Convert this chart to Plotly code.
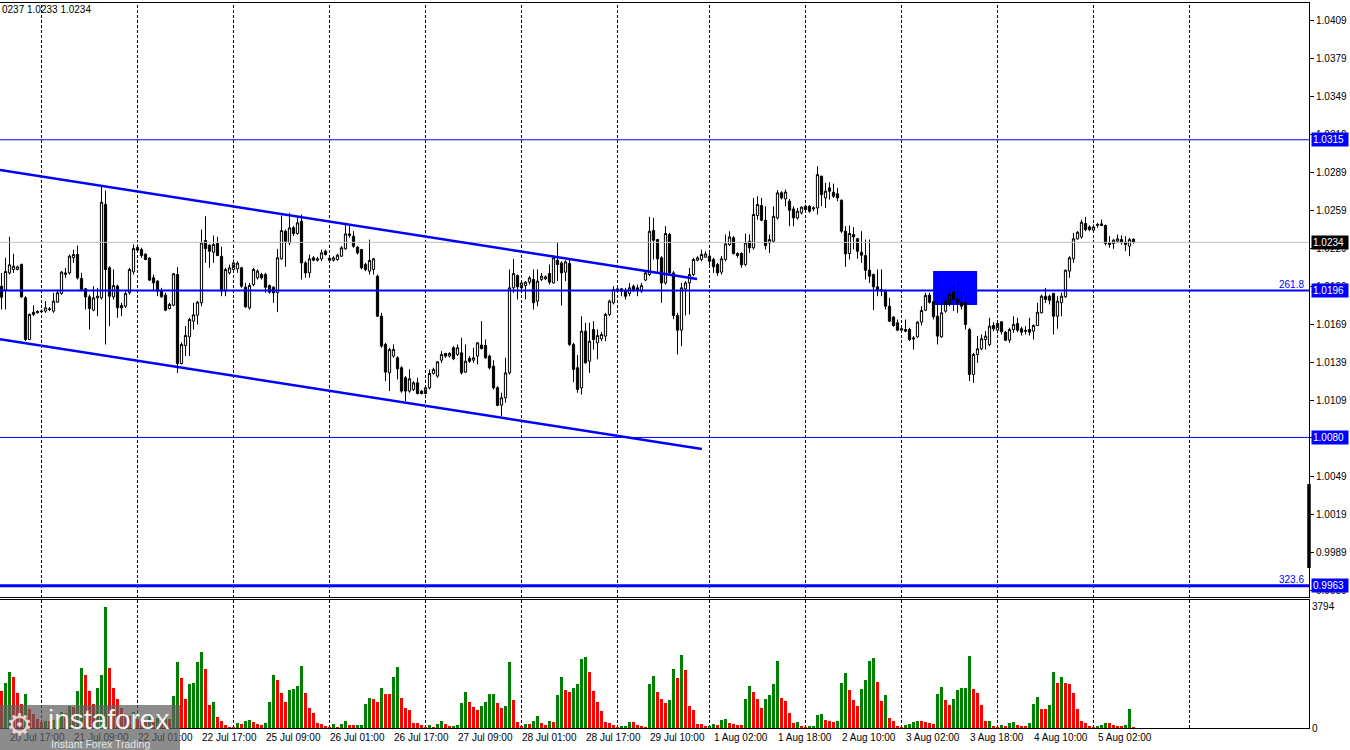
import plotly.graph_objects as go

# ---------------- data (hourly bars, index 0 = 20 Jul 15:00) ----------------
bars = list(range(284))

opens = [
1.01994,1.01963,1.02099,1.02126,1.02126,1.02165,1.01902,1.01573,1.01789,1.01784,
1.01792,1.01797,1.01815,1.01797,1.01868,1.01936,1.02099,1.02099,1.02218,1.02244,
1.02055,1.01973,1.01910,1.01805,1.01902,1.01902,1.02639,1.02139,1.01910,1.01994,
1.01842,1.01836,1.01942,1.02107,1.02299,1.02283,1.02247,1.02215,1.02060,1.02034,
1.01955,1.01923,1.01818,1.01844,1.02086,1.01384,1.01526,1.01594,1.01718,1.01765,
1.01863,1.02355,1.02318,1.02262,1.02331,1.02231,1.01955,1.02099,1.02126,1.02131,
1.02139,1.01986,1.01823,1.02007,1.02060,1.02086,1.02086,1.01999,1.01986,1.01942,
1.02210,1.02428,1.02336,1.02455,1.02410,1.02507,1.02178,1.02099,1.02218,1.02199,
1.02210,1.02270,1.02215,1.02199,1.02205,1.02231,1.02289,1.02394,1.02389,1.02302,
1.02283,1.02165,1.02113,1.02126,1.02073,1.01757,1.01534,1.01310,1.01442,1.01429,
1.01350,1.01271,1.01166,1.01179,1.01231,1.01166,1.01147,1.01192,1.01305,1.01284,
1.01410,1.01463,1.01442,1.01508,1.01455,1.01468,1.01316,1.01423,1.01410,1.01442,
1.01529,1.01526,1.01442,1.01363,1.01192,1.01055,1.01113,1.01310,1.01981,1.02078,
1.01981,1.01999,1.02026,1.02047,1.01876,1.02047,1.02052,1.02094,1.02020,1.02199,
1.02178,1.02105,1.02173,1.01534,1.01350,1.01192,1.01639,1.01402,1.01652,1.01547,
1.01579,1.01600,1.01771,1.01863,1.01955,1.01973,1.01955,1.01936,1.01994,1.01981,
1.01955,1.02042,1.02086,1.02433,1.02362,1.02218,1.02020,1.02402,1.02099,1.01763,
1.01647,1.01973,1.02020,1.02086,1.02199,1.02205,1.02223,1.02231,1.02205,1.02165,
1.02105,1.02205,1.02323,1.02376,1.02252,1.02252,1.02165,1.02349,1.02297,1.02552,
1.02631,1.02515,1.02336,1.02349,1.02533,1.02731,1.02683,1.02665,1.02604,1.02533,
1.02573,1.02625,1.02625,1.02604,1.02612,1.02862,1.02691,1.02770,1.02736,1.02723,
1.02673,1.02428,1.02252,1.02402,1.02368,1.02262,1.02236,1.02120,1.02086,1.01989,
1.01955,1.01955,1.01836,1.01750,1.01705,1.01647,1.01652,1.01652,1.01586,1.01594,
1.01710,1.01805,1.01923,1.01871,1.01757,1.01594,1.01797,1.01857,1.01955,1.01889,
1.01863,1.01863,1.01652,1.01297,1.01455,1.01500,1.01573,1.01534,1.01684,1.01647,
1.01713,1.01631,1.01568,1.01652,1.01700,1.01658,1.01637,1.01652,1.01639,1.01684,
1.01784,1.01915,1.01915,1.01937,1.01757,1.01863,1.01910,1.02113,1.02210,1.02368,
1.02383,1.02489,1.02462,1.02436,1.02473,1.02486,1.02473,1.02336,1.02331,1.02349,
1.02362,1.02341,1.02310,1.02365]

highs = [
1.02099,1.02218,1.02384,1.02249,1.02157,1.02173,1.01915,1.01779,1.01842,1.01805,
1.01810,1.01876,1.01830,1.01942,1.01968,1.02113,1.02139,1.02244,1.02283,1.02315,
1.02099,1.01981,1.01928,1.01994,1.01981,1.02788,1.02749,1.02152,1.02126,1.02007,
1.01863,1.01955,1.02139,1.02323,1.02323,1.02297,1.02252,1.02223,1.02086,1.02042,
1.01981,1.01942,1.01863,1.02099,1.02144,1.01552,1.01679,1.01744,1.01863,1.01876,
1.02441,1.02546,1.02323,1.02394,1.02384,1.02305,1.02139,1.02165,1.02205,1.02191,
1.02147,1.02020,1.02020,1.02139,1.02126,1.02099,1.02099,1.02007,1.01994,1.02289,
1.02552,1.02441,1.02573,1.02470,1.02533,1.02560,1.02191,1.02244,1.02231,1.02226,
1.02283,1.02283,1.02236,1.02231,1.02250,1.02310,1.02494,1.02468,1.02428,1.02310,
1.02289,1.02178,1.02362,1.02218,1.02086,1.01784,1.01547,1.01508,1.01534,1.01442,
1.01363,1.01284,1.01337,1.01245,1.01271,1.01174,1.01205,1.01337,1.01350,1.01403,
1.01481,1.01468,1.01473,1.01521,1.01534,1.01587,1.01534,1.01442,1.01508,1.01552,
1.01718,1.01573,1.01455,1.01410,1.01205,1.01153,1.01429,1.02126,1.02210,1.02086,
1.02034,1.02034,1.02073,1.02126,1.02126,1.02099,1.02079,1.02165,1.02236,1.02336,
1.02191,1.02199,1.02205,1.01547,1.01450,1.01757,1.01705,1.01705,1.01718,1.01652,
1.01631,1.01784,1.01889,1.01994,1.01981,1.01981,1.01981,1.02020,1.02007,1.02007,
1.02020,1.02113,1.02541,1.02533,1.02368,1.02231,1.02468,1.02415,1.02113,1.01784,
1.02020,1.02034,1.02139,1.02218,1.02231,1.02283,1.02270,1.02257,1.02218,1.02178,
1.02231,1.02402,1.02428,1.02389,1.02262,1.02262,1.02410,1.02402,1.02691,1.02704,
1.02691,1.02625,1.02402,1.02625,1.02752,1.02744,1.02757,1.02683,1.02625,1.02612,
1.02625,1.02639,1.02633,1.02625,1.02941,1.02867,1.02809,1.02815,1.02804,1.02770,
1.02678,1.02468,1.02473,1.02460,1.02376,1.02428,1.02362,1.02362,1.02094,1.02126,
1.02126,1.01968,1.01902,1.01757,1.01731,1.01674,1.01731,1.01666,1.01600,1.01718,
1.01836,1.01942,1.01942,1.01876,1.01915,1.01889,1.01915,1.01981,1.01994,1.02099,
1.01981,1.01889,1.01666,1.01468,1.01600,1.01613,1.01639,1.01744,1.01710,1.01718,
1.01718,1.01639,1.01666,1.01757,1.01744,1.01674,1.01679,1.01744,1.01692,1.01863,
1.01928,1.01981,1.01928,1.01942,1.01915,1.01942,1.02126,1.02231,1.02415,1.02428,
1.02520,1.02541,1.02473,1.02481,1.02494,1.02520,1.02481,1.02389,1.02368,1.02402,
1.02394,1.02389,1.02376,1.02370]

lows = [
1.01810,1.01810,1.02086,1.02099,1.02120,1.01902,1.01560,1.01568,1.01757,1.01779,
1.01784,1.01784,1.01797,1.01784,1.01863,1.01928,1.02060,1.02086,1.02178,1.02047,
1.01955,1.01810,1.01652,1.01797,1.01757,1.01889,1.01534,1.01679,1.01889,1.01744,
1.01757,1.01823,1.01928,1.02086,1.02270,1.02218,1.02199,1.02034,1.01955,1.01915,
1.01902,1.01797,1.01810,1.01836,1.01310,1.01376,1.01442,1.01442,1.01652,1.01692,
1.01836,1.02178,1.02139,1.02178,1.02231,1.01915,1.01915,1.02086,1.02099,1.02099,
1.01981,1.01823,1.01810,1.01994,1.02047,1.02047,1.01942,1.01936,1.01863,1.01789,
1.02205,1.02147,1.02318,1.02390,1.02400,1.02047,1.02060,1.02060,1.02191,1.02189,
1.02191,1.02236,1.02191,1.02189,1.02195,1.02226,1.02283,1.02376,1.02297,1.02244,
1.02126,1.02113,1.02086,1.02086,1.01752,1.01508,1.01245,1.01166,1.01429,1.01258,
1.01153,1.01087,1.01153,1.01166,1.01140,1.01140,1.01140,1.01179,1.01297,1.01271,
1.01389,1.01429,1.01431,1.01410,1.01442,1.01297,1.01310,1.01389,1.01389,1.01376,
1.01494,1.01421,1.01337,1.01179,1.01047,1.00968,1.01074,1.01297,1.01942,1.01889,
1.01939,1.01889,1.02007,1.01810,1.01836,1.02034,1.02042,1.02007,1.02015,1.02034,
1.01842,1.02034,1.01521,1.01237,1.01153,1.01139,1.01384,1.01310,1.01494,1.01416,
1.01560,1.01560,1.01757,1.01850,1.01947,1.01915,1.01889,1.01915,1.01947,1.01915,
1.01942,1.02034,1.02073,1.02205,1.02099,1.01863,1.02007,1.02086,1.01736,1.01455,
1.01521,1.01763,1.01771,1.02073,1.02191,1.02191,1.02218,1.02139,1.02099,1.02073,
1.02086,1.02191,1.02310,1.02244,1.02218,1.02139,1.02152,1.02257,1.02283,1.02520,
1.02507,1.02283,1.02257,1.02336,1.02520,1.02678,1.02625,1.02468,1.02468,1.02520,
1.02560,1.02586,1.02573,1.02586,1.02560,1.02625,1.02612,1.02678,1.02691,1.02665,
1.02415,1.02147,1.02205,1.02283,1.02210,1.02178,1.02047,1.02020,1.01805,1.01915,
1.01915,1.01810,1.01710,1.01674,1.01639,1.01639,1.01631,1.01560,1.01494,1.01586,
1.01684,1.01797,1.01857,1.01731,1.01534,1.01586,1.01784,1.01836,1.01797,1.01784,
1.01810,1.01652,1.01245,1.01231,1.01389,1.01490,1.01494,1.01521,1.01639,1.01621,
1.01613,1.01560,1.01547,1.01626,1.01631,1.01605,1.01613,1.01605,1.01573,1.01679,
1.01779,1.01863,1.01850,1.01613,1.01658,1.01757,1.01902,1.02060,1.02178,1.02362,
1.02368,1.02428,1.02428,1.02415,1.02455,1.02468,1.02315,1.02297,1.02289,1.02336,
1.02323,1.02271,1.02231,1.02330]

closes = [
1.01907,1.02110,1.02163,1.02152,1.02147,1.01910,1.01573,1.01771,1.01771,1.01794,
1.01797,1.01823,1.01810,1.01876,1.01942,1.02105,1.02089,1.02231,1.02244,1.02060,
1.01968,1.01910,1.01818,1.01902,1.01915,1.02657,1.02126,1.01915,1.01999,1.01823,
1.01823,1.01936,1.02126,1.02291,1.02278,1.02236,1.02205,1.02042,1.02020,1.01955,
1.01910,1.01805,1.01850,1.02092,1.01384,1.01534,1.01605,1.01731,1.01768,1.01868,
1.02336,1.02291,1.02270,1.02323,1.02236,1.01955,1.02126,1.02139,1.02178,1.02176,
1.01994,1.01831,1.01999,1.02126,1.02113,1.02060,1.01986,1.01947,1.01942,1.02218,
1.02433,1.02349,1.02455,1.02410,1.02494,1.02178,1.02099,1.02210,1.02199,1.02210,
1.02257,1.02244,1.02199,1.02218,1.02239,1.02297,1.02407,1.02407,1.02310,1.02257,
1.02139,1.02126,1.02197,1.02210,1.01757,1.01521,1.01316,1.01494,1.01494,1.01342,
1.01166,1.01166,1.01263,1.01231,1.01147,1.01147,1.01192,1.01305,1.01337,1.01397,
1.01455,1.01442,1.01463,1.01421,1.01508,1.01310,1.01402,1.01402,1.01429,1.01547,
1.01502,1.01429,1.01350,1.01192,1.01053,1.01113,1.01310,1.01981,1.02094,1.01989,
1.02020,1.02026,1.02060,1.01863,1.02034,1.02073,1.02068,1.02026,1.02218,1.02165,
1.02099,1.02186,1.01534,1.01337,1.01179,1.01639,1.01389,1.01560,1.01573,1.01605,
1.01613,1.01771,1.01876,1.01968,1.01973,1.01955,1.01915,1.01981,1.01963,1.01968,
1.01999,1.02099,1.02428,1.02357,1.02210,1.02020,1.02410,1.02099,1.01763,1.01647,
1.01981,1.02020,1.02086,1.02205,1.02218,1.02244,1.02249,1.02191,1.02147,1.02099,
1.02210,1.02328,1.02383,1.02252,1.02236,1.02163,1.02336,1.02297,1.02560,1.02639,
1.02515,1.02315,1.02362,1.02546,1.02731,1.02691,1.02738,1.02594,1.02533,1.02586,
1.02618,1.02599,1.02586,1.02612,1.02875,1.02717,1.02744,1.02744,1.02704,1.02691,
1.02428,1.02249,1.02410,1.02383,1.02270,1.02239,1.02120,1.02073,1.01989,1.01968,
1.01968,1.01836,1.01718,1.01684,1.01647,1.01658,1.01639,1.01573,1.01579,1.01710,
1.01802,1.01921,1.01868,1.01752,1.01600,1.01784,1.01876,1.01928,1.01889,1.01863,
1.01836,1.01692,1.01297,1.01455,1.01500,1.01579,1.01600,1.01679,1.01658,1.01700,
1.01634,1.01568,1.01652,1.01692,1.01647,1.01631,1.01645,1.01631,1.01684,1.01789,
1.01915,1.01889,1.01884,1.01757,1.01876,1.01915,1.02120,1.02218,1.02368,1.02420,
1.02499,1.02441,1.02441,1.02462,1.02481,1.02473,1.02331,1.02323,1.02357,1.02368,
1.02341,1.02323,1.02362,1.02340]

volumes = [
1181,1432,1777,1620,1118,760,1076,600,450,300,
200,250,230,260,280,520,480,700,680,1181,
1902,1682,1160,763,1275,1682,3794,1902,1275,909,
627,449,380,520,300,250,200,420,300,330,
250,400,300,1024,2090,1588,909,1400,1432,2090,
2403,1871,742,836,366,240,115,52,31,178,
146,240,272,209,146,125,178,836,1682,1526,
1118,836,1212,1244,1338,1965,1118,648,491,178,
146,84,21,146,52,146,240,115,110,115,
120,773,961,930,836,1275,1087,1080,1620,1933,
961,648,585,178,170,115,52,115,52,146,
240,146,84,90,100,805,1150,836,679,585,
711,836,1087,1090,805,648,711,2090,878,209,
84,146,140,240,397,178,115,240,209,1055,
1620,1212,1150,1275,1400,2184,2247,1777,1181,836,
554,209,178,115,21,84,90,209,200,115,
84,52,1400,1651,1150,930,805,899,1871,1588,
2310,1839,711,585,146,140,84,90,146,115,
272,303,178,146,115,110,930,1338,1150,930,
648,930,1055,1400,2121,961,867,491,178,209,
84,52,84,90,428,460,272,240,209,240,
1432,1745,1212,899,711,1244,1526,2121,2215,1463,
867,1055,334,240,84,21,115,146,209,240,
235,209,178,146,1087,1306,899,742,930,1212,
1275,1280,2278,1244,1118,742,240,245,84,21,
115,84,178,209,115,84,80,178,773,993,
617,610,742,1777,1432,1620,1430,1400,1118,617,
240,178,84,52,84,115,178,170,115,84,
80,115,617,31]

x_label_bars = [2, 18, 34, 50, 66, 82, 98, 114, 130, 146, 162, 178, 194, 210, 226, 242, 258, 274]
x_labels = ["20 Jul 17:00", "21 Jul 09:00", "22 Jul 01:00", "22 Jul 17:00", "25 Jul 09:00",
            "26 Jul 01:00", "26 Jul 17:00", "27 Jul 09:00", "28 Jul 01:00", "28 Jul 17:00",
            "29 Jul 10:00", "1 Aug 02:00", "1 Aug 18:00", "2 Aug 10:00", "3 Aug 02:00",
            "3 Aug 18:00", "4 Aug 10:00", "5 Aug 02:00"]
day_grid_bars = [10, 34, 58, 82, 106, 130, 154, 177, 201, 225, 249, 273, 297]
price_ticks = [1.0409, 1.0379, 1.0349, 1.0319, 1.0289, 1.0259, 1.0229, 1.0199,
               1.0169, 1.0139, 1.0109, 1.0080, 1.0049, 1.0019, 0.9989, 0.9959]
hidden_tick_labels = [1.0080]
volume_ticks = [0, 3794]

level_prices = [1.0315, 1.0234, 1.0196, 1.0080, 0.9963]
level_labels = ["1.0315", "1.0234", "1.0196", "1.0080", "0.9963"]
fibo_prices = [1.0196, 0.9963]
fibo_labels = ["261.8", "323.6"]

channel_upper = ([-0.375, 173.9], [1.02911, 1.02051])
channel_lower = ([-0.375, 175.1], [1.01575, 1.00709])
zone_box = ([232.9, 243.9], [1.01846, 1.02114])
header_text = "0237 1.0233 1.0234"

# ---------------- styling ----------------
BLUE = "#0000FF"
FONT = "Liberation Sans, Arial, sans-serif"
H_PLOT_TOP, H_PLOT_BOT = 3, 728
PLOT_H = H_PLOT_BOT - H_PLOT_TOP


def py(px):
    return (H_PLOT_BOT - px) / PLOT_H


vol_colors = []
for i, v in enumerate(volumes):
    vol_colors.append("#008000" if i > 0 and v > volumes[i - 1] else "#FF0000")

fig = go.Figure()
fig.add_trace(go.Candlestick(
    x=bars, open=opens, high=highs, low=lows, close=closes,
    increasing=dict(line=dict(color="black", width=1), fillcolor="rgba(0,0,0,0)"),
    decreasing=dict(line=dict(color="black", width=1), fillcolor="black"),
    whiskerwidth=0, hoverinfo="skip", showlegend=False, xaxis="x", yaxis="y"))

fig.add_trace(go.Bar(
    x=bars, y=volumes, marker=dict(color=vol_colors, line=dict(width=0)),
    width=0.75, hoverinfo="skip", showlegend=False, xaxis="x2", yaxis="y2"))

shapes = []
for b in day_grid_bars:
    shapes.append(dict(type="line", xref="x", yref="paper", x0=b, x1=b, y0=0, y1=1,
                       line=dict(color="black", width=1, dash="3px,2px"), layer="below"))

shapes.append(dict(type="rect", xref="x", yref="y", x0=zone_box[0][0], x1=zone_box[0][1],
                   y0=zone_box[1][0], y1=zone_box[1][1], fillcolor=BLUE,
                   line=dict(width=0), layer="below"))

level_styles = [(BLUE, 1), ("#C0C0C0", 1), (BLUE, 2), (BLUE, 1), (BLUE, 3)]
for p, (c, w) in zip(level_prices, level_styles):
    shapes.append(dict(type="line", xref="paper", yref="y", x0=0, x1=1, y0=p, y1=p,
                       line=dict(color=c, width=w), layer="above"))

for xs, ys in (channel_upper, channel_lower):
    shapes.append(dict(type="line", xref="x", yref="y", x0=xs[0], x1=xs[1], y0=ys[0], y1=ys[1],
                       line=dict(color=BLUE, width=2.5), layer="above"))

# dark marker on price scale
shapes.append(dict(type="line", xref="paper", yref="y", x0=1, x1=1, y0=0.99769, y1=1.00432,
                   line=dict(color="black", width=3.5), layer="above"))

# watermark box
shapes.append(dict(type="rect", xref="paper", yref="paper", x0=0, x1=180 / 1309,
                   y0=py(750), y1=py(705), fillcolor="rgba(95,95,95,0.72)",
                   line=dict(width=0), layer="above"))

annotations = []
annotations.append(dict(xref="paper", yref="paper", x=0, y=py(10), xanchor="left", yanchor="middle",
                        text=header_text, showarrow=False, font=dict(family=FONT, size=10, color="black")))

box_colors = [BLUE, "black", BLUE, BLUE, BLUE]
for p, t, c in zip(level_prices, level_labels, box_colors):
    annotations.append(dict(xref="paper", yref="y", x=1, y=p, xanchor="left", yanchor="middle",
                            xshift=2, text=t, showarrow=False, bgcolor=c, borderpad=1,
                            width=34, align="left",
                            font=dict(family=FONT, size=10, color="white")))

for p, t in zip(fibo_prices, fibo_labels):
    annotations.append(dict(xref="paper", yref="y", x=1, y=p, xanchor="right", yanchor="bottom",
                            xshift=-3, yshift=-1, text=t, showarrow=False,
                            font=dict(family=FONT, size=10, color=BLUE)))

annotations.append(dict(xref="paper", yref="paper", x=4 / 1309, y=py(724), xanchor="left",
                        yanchor="middle", text="\u2699", showarrow=False,
                        font=dict(family="DejaVu Sans", size=30, color="rgba(255,225,225,0.9)")))
annotations.append(dict(xref="paper", yref="paper", x=46 / 1309, y=py(719), xanchor="left",
                        yanchor="middle", text="instaforex", showarrow=False,
                        font=dict(family=FONT, size=28, color="rgba(255,255,255,0.92)")))
annotations.append(dict(xref="paper", yref="paper", x=49 / 1309, y=py(744), xanchor="left",
                        yanchor="middle", text="Instant Forex Trading", showarrow=False,
                        font=dict(family=FONT, size=10.5, color="rgba(235,235,235,0.95)")))

main_bottom = py(597)
vol_top = py(599.5)
x_range = [-0.375, 326.875]

fig.update_layout(
    width=1350, height=750,
    margin=dict(l=0, r=41, t=H_PLOT_TOP, b=750 - H_PLOT_BOT),
    paper_bgcolor="white", plot_bgcolor="rgba(0,0,0,0)",
    hovermode=False, showlegend=False,
    boxgap=0.45, boxgroupgap=0,
    bargap=0,
    font=dict(family=FONT, size=10, color="black"),
    xaxis=dict(domain=[0, 1], range=x_range, anchor="y", showticklabels=False,
               showgrid=False, zeroline=False, showline=True, linecolor="black",
               linewidth=1, mirror=True, ticks="", rangeslider=dict(visible=False)),
    yaxis=dict(domain=[main_bottom, 1], range=[0.995404, 1.042297], side="right",
               tickvals=price_ticks,
               ticktext=["" if v in hidden_tick_labels else f"{v:.4f}" for v in price_ticks],
               ticks="outside", ticklen=4, tickcolor="black", showline=True,
               linecolor="black", linewidth=1, showgrid=False, zeroline=False,
               tickfont=dict(family=FONT, size=10, color="black")),
    xaxis2=dict(domain=[0, 1], range=x_range, anchor="y2", matches="x",
                tickvals=x_label_bars, ticktext=x_labels, ticklabelposition="outside right",
                ticks="", showgrid=False, zeroline=False, showline=True, linecolor="black",
                linewidth=1, mirror=True, tickfont=dict(family=FONT, size=10, color="black")),
    yaxis2=dict(domain=[0, vol_top], range=[0, 4020], side="right", anchor="x2",
                tickvals=volume_ticks, ticktext=[str(v) for v in volume_ticks],
                ticks="", showline=True, linecolor="black", linewidth=1,
                showgrid=False, zeroline=False,
                tickfont=dict(family=FONT, size=10, color="black")),
    shapes=shapes, annotations=annotations,
)

fig.write_html("out.html", config={"displayModeBar": False},
               post_script="document.body.style.margin='0';document.body.style.overflow='hidden';")
